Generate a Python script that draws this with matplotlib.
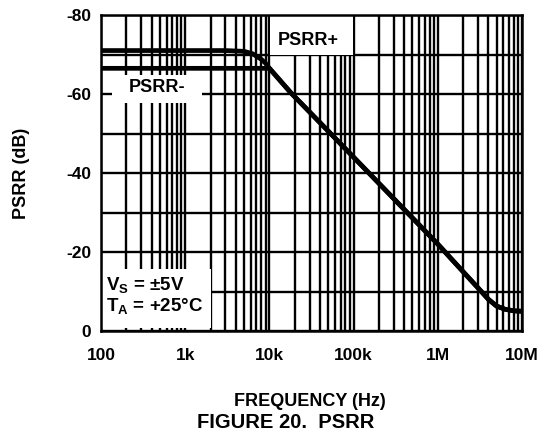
import matplotlib
matplotlib.use("Agg")
import matplotlib.pyplot as plt
import numpy as np
from matplotlib.patches import Rectangle
from matplotlib.ticker import FixedLocator, LogLocator, NullFormatter

plt.rcParams["font.family"] = ["Liberation Sans", "DejaVu Sans"]
plt.rcParams["font.weight"] = "bold"
plt.rcParams["axes.unicode_minus"] = False
plt.rcParams["mathtext.fontset"] = "custom"
plt.rcParams["mathtext.rm"] = "Liberation Sans:bold"
plt.rcParams["mathtext.bf"] = "Liberation Sans:bold"

# PSRR vs frequency
freq_hz = [100, 1e3, 3e3, 5e3, 6.3e3, 8e3, 9e3, 1e4, 1.8e4, 5e4, 1e5,
           3.16e5, 1e6, 2e6, 3.16e6, 4e6, 5e6, 6.3e6, 8e6, 1e7]
psrr_pos = [-71, -71, -71, -70.8, -70.2, -68.8, -67.8, -66.5, -60.3, -50.6, -44.0,
            -33.0, -22.0, -15.0, -10.4, -8.0, -6.3, -5.5, -5.1, -5.0]
psrr_neg = [-66.5, -66.5, -66.5, -66.5, -66.5, -66.5, -66.5, -66.5, -60.3, -50.6, -44.0,
            -33.0, -22.0, -15.0, -10.4, -8.0, -6.3, -5.5, -5.1, -5.0]

xticks = [100, 1e3, 1e4, 1e5, 1e6, 1e7]
xticklabels = ["100", "1k", "10k", "100k", "1M", "10M"]
yticks = [0, -20, -40, -60, -80]
ygrid = [-10, -30, -50, -70]

W, H = 549, 438
fig = plt.figure(figsize=(W / 100, H / 100), dpi=100)
ax = fig.add_axes([101 / W, 1 - 331 / H, 421 / W, 316 / H])

ax.plot(freq_hz, psrr_neg, color="black", lw=3.4, solid_capstyle="butt", zorder=3)
ax.plot(freq_hz, psrr_pos, color="black", lw=3.4, solid_capstyle="butt", zorder=3)

ax.set_xscale("log")
ax.set_xlim(100, 1e7)
ax.set_ylim(0, -80)

ax.set_xticks(xticks)
ax.set_xticklabels(xticklabels)
ax.xaxis.set_minor_locator(LogLocator(base=10, subs=np.arange(2, 10)))
ax.xaxis.set_minor_formatter(NullFormatter())
ax.set_yticks(yticks)
ax.yaxis.set_minor_locator(FixedLocator(ygrid))

ax.grid(True, which="both", color="black", lw=1.7)
ax.set_axisbelow(True)
ax.tick_params(which="both", length=0)
ax.tick_params(axis="x", pad=12, labelsize=12.5)
ax.tick_params(axis="y", pad=7, labelsize=12.5)
for s in ax.spines.values():
    s.set_linewidth(1.8)

# white label boxes that mask the grid
boxes = [(0.401, 0.873, 0.198, 0.127),
         (0.026, 0.7215, 0.214, 0.0885),
         (0.0, 0.0095, 0.262, 0.188)]
for x0, y0, w, h in boxes:
    ax.add_patch(Rectangle((x0, y0), w, h, transform=ax.transAxes,
                           facecolor="white", edgecolor="none", zorder=1.5))

ax.text(0.492, 0.918, "PSRR+", transform=ax.transAxes, ha="center", va="center",
        fontsize=13, zorder=4)
ax.text(0.133, 0.771, "PSRR-", transform=ax.transAxes, ha="center", va="center",
        fontsize=13, zorder=4)
ax.text(0.012, 0.127, r"V$_{\mathrm{S}}$ = ±5V", transform=ax.transAxes,
        ha="left", va="baseline", fontsize=13.5, zorder=4)
ax.text(0.012, 0.061, r"T$_{\mathrm{A}}$ = +25°C", transform=ax.transAxes,
        ha="left", va="baseline", fontsize=13.5, zorder=4)

fig.text(22 / W, 1 - 173 / H, "PSRR (dB)", rotation=90, ha="center", va="center",
         fontsize=13)
fig.text(310 / W, 1 - 402 / H, "FREQUENCY (Hz)", ha="center", va="center",
         fontsize=13)
fig.text(285.5 / W, 1 - 422 / H, "FIGURE 20.  PSRR", ha="center", va="center",
         fontsize=14.5)

fig.savefig("out.png", dpi=100)
